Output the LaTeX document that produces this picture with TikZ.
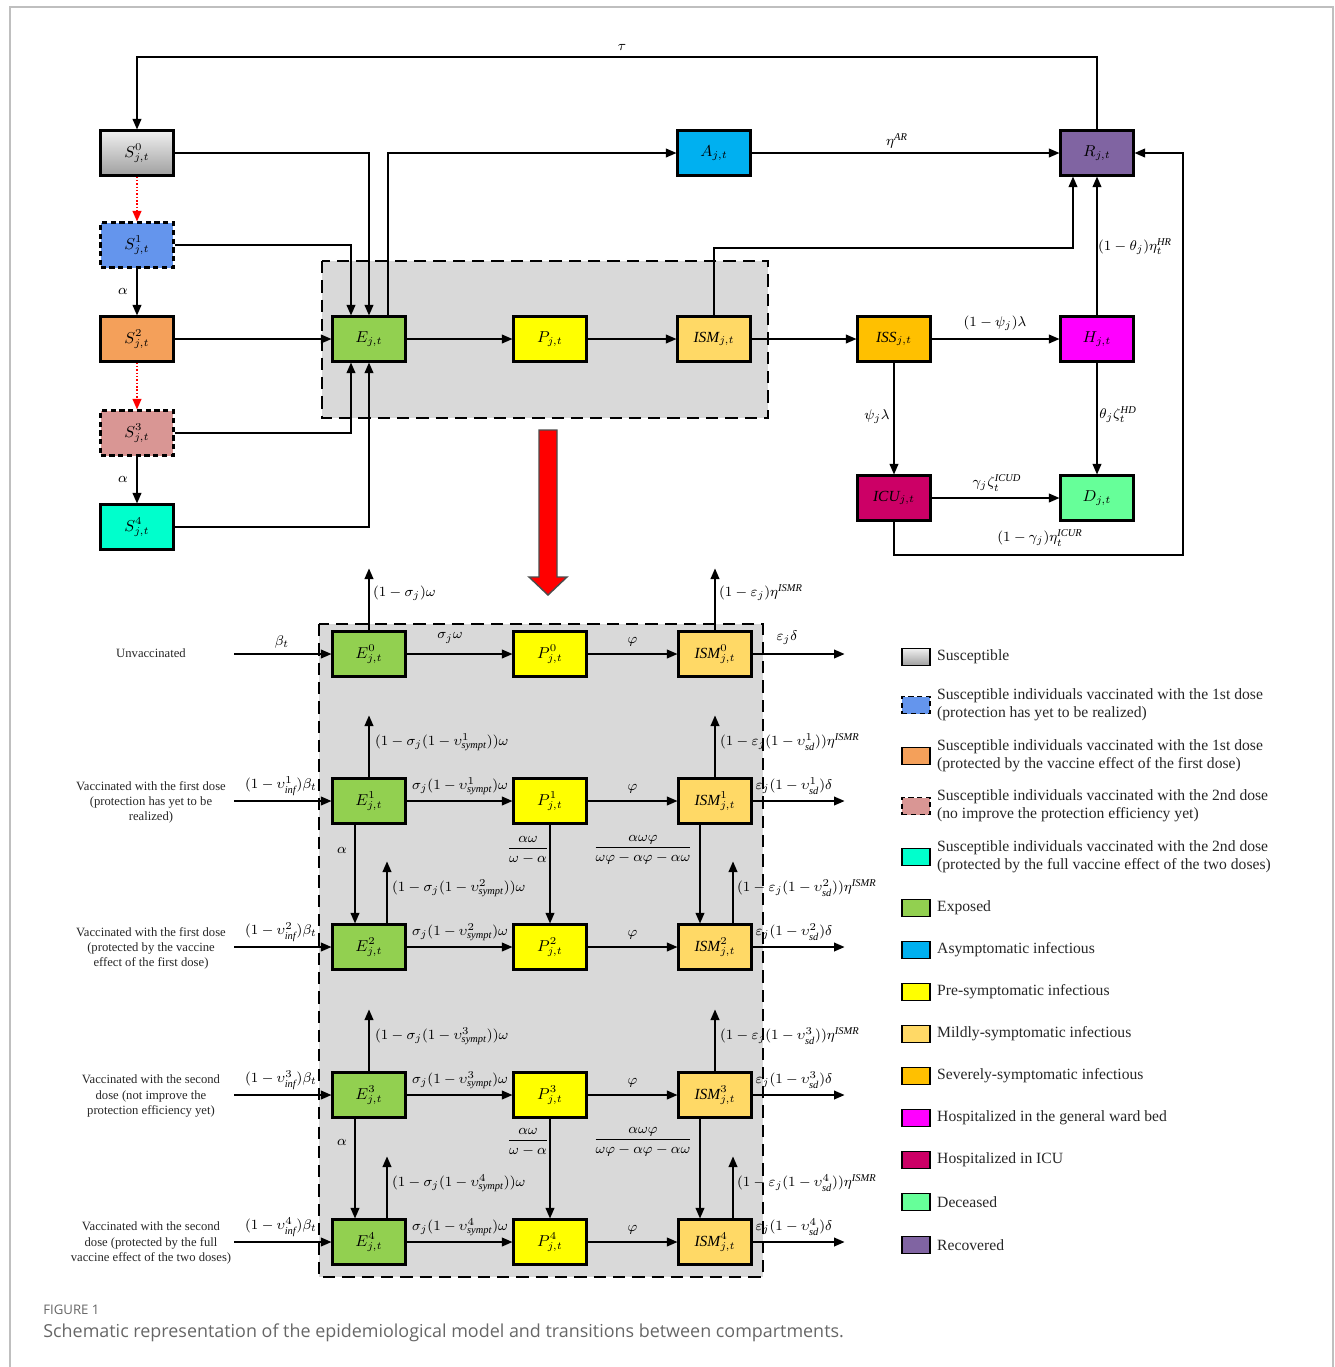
\documentclass[tikz,border=0pt]{standalone}
\usepackage{amsmath,amssymb}
\usepackage{fontspec}
\setmainfont{Liberation Serif}
\newfontfamily\capfont{Open Sans}
\usetikzlibrary{arrows.meta,calc,positioning}
\definecolor{cS1}{HTML}{6495ED}
\definecolor{cS2}{HTML}{F4A05A}
\definecolor{cS3}{HTML}{D99694}
\definecolor{cS4}{HTML}{00FFCC}
\definecolor{cE}{HTML}{92D050}
\definecolor{cP}{HTML}{FFFF00}
\definecolor{cISM}{HTML}{FFD966}
\definecolor{cISS}{HTML}{FFC000}
\definecolor{cA}{HTML}{00B0F0}
\definecolor{cR}{HTML}{8064A2}
\definecolor{cH}{HTML}{FF00FF}
\definecolor{cICU}{HTML}{CC0066}
\definecolor{cD}{HTML}{66FF99}

\begin{document}
\begin{tikzpicture}[x=0.02cm, y=-0.02cm,
    comp/.style={draw, line width=1.2pt, minimum width=1.46cm, minimum height=0.9cm, inner sep=0pt, font=\fontsize{8.8}{10}\selectfont},
    vacc/.style={comp, densely dashed},
    arr/.style={-{Triangle[length=6pt,width=5pt]}, line width=0.8pt},
    vac/.style={-{Triangle[length=6pt,width=5pt]}, red, densely dotted, line width=0.9pt},
    lbl/.style={font=\fontsize{8.5}{10}\selectfont, inner sep=1pt},
    grp/.style={draw, fill=black!15, dash pattern=on 7pt off 4pt, line width=1.1pt},
    cohort/.style={align=center, font=\fontsize{7.2}{8.6}\selectfont, text=black!85},
    key/.style={draw, line width=1.1pt, minimum width=0.56cm, minimum height=0.34cm, inner sep=0pt},
    keytext/.style={anchor=west, align=left, font=\fontsize{8.9}{10.5}\selectfont, text=black!85}
]
\useasboundingbox (0,0) rectangle (1335,1367);
\draw[gray!50, line width=1pt] (10,1367) -- (10,7) -- (1333,7) -- (1333,1367);

\draw[grp] (322,261) rectangle (768,418);
\draw[grp] (319,624) rectangle (763,1277);

\node[comp, top color=gray!12, bottom color=gray!75] (S0) at (137,153) {$S^{0}_{j,t}$};
\node[vacc, fill=cS1] (S1) at (137,245) {$S^{1}_{j,t}$};
\node[comp, fill=cS2] (S2) at (137,339) {$S^{2}_{j,t}$};
\node[vacc, fill=cS3] (S3) at (137,433) {$S^{3}_{j,t}$};
\node[comp, fill=cS4] (S4) at (137,527) {$S^{4}_{j,t}$};
\node[comp, fill=cE] (E) at (369,339) {$E_{j,t}$};
\node[comp, fill=cP] (P) at (550,339) {$P_{j,t}$};
\node[comp, fill=cISM] (ISM) at (714,339) {$\mathit{ISM}_{j,t}$};
\node[comp, fill=cISS] (ISS) at (894,339) {$\mathit{ISS}_{j,t}$};
\node[comp, fill=cH] (H) at (1097,339) {$H_{j,t}$};
\node[comp, fill=cA] (A) at (714,153) {$A_{j,t}$};
\node[comp, fill=cR] (R) at (1097,153) {$R_{j,t}$};
\node[comp, fill=cICU] (ICU) at (894,498) {$\mathit{ICU}_{j,t}$};
\node[comp, fill=cD] (D) at (1097,498) {$D_{j,t}$};

\coordinate (tl) at (137,57);
\coordinate (loopc) at (1183,555);
\draw[arr] (R.north) |- (tl) -- (S0.north);
\node[lbl] (ltau) at (622,47) {$\tau$};
\draw[vac] (S0) -- (S1);
\draw[arr] (S1) -- (S2);
\draw[vac] (S2) -- (S3);
\draw[arr] (S3) -- (S4);
\node[lbl] (la1) at (123,291) {$\alpha$};
\node[lbl] (la2) at (123,479) {$\alpha$};
\draw[arr] (S0.east) -| (E.north);
\draw[arr] (S1.east) -| ($(E.north)+(-18,0)$);
\draw[arr] (S2) -- (E);
\draw[arr] (S3.east) -| ($(E.south)+(-18,0)$);
\draw[arr] (S4.east) -| (E.south);
\draw[arr] ($(E.north)+(19,0)$) |- (A.west);
\draw[arr] (E) -- (P);
\draw[arr] (P) -- (ISM);
\draw[arr] (ISM) -- (ISS);
\draw[arr] (A) -- (R);
\node[lbl] (lar) at (897,141) {$\eta^{\mathit{AR}}$};
\draw[arr] (ISM.north) |- (1073,248) -- ($(R.south)+(-24,0)$);
\draw[arr] (ISS) -- (H);
\node[lbl] (lsh) at (995,323) {$(1-\psi_j)\lambda$};
\draw[arr] (H) -- (R);
\node[lbl] (lhr) at (1135,247) {$(1-\theta_j)\eta_t^{\mathit{HR}}$};
\draw[arr] (ISS) -- (ICU);
\node[lbl] (lsi) at (877,417) {$\psi_j\lambda$};
\draw[arr] (H) -- (D);
\node[lbl] (lhd) at (1118,415) {$\theta_j\zeta_t^{\mathit{HD}}$};
\draw[arr] (ICU) -- (D);
\node[lbl] (lid) at (997,483) {$\gamma_j\zeta_t^{\mathit{ICUD}}$};
\draw[arr] (ICU.south) |- (loopc) |- (R.east);
\node[lbl] (lir) at (1040,538) {$(1-\gamma_j)\eta_t^{\mathit{ICUR}}$};

\draw[fill=red, draw=black!70, line width=0.8pt] (539,430) -- (557,430) -- (557,577) -- (567,577) -- (548,595) -- (529,577) -- (539,577) -- cycle;

\node[comp, fill=cE] (E0) at (369,654) {$E^{0}_{j,t}$};
\node[comp, fill=cP] (P0) at (550,654) {$P^{0}_{j,t}$};
\node[comp, fill=cISM] (M0) at (715,654) {$\mathit{ISM}^{0}_{j,t}$};
\node[comp, fill=cE] (E1) at (369,801) {$E^{1}_{j,t}$};
\node[comp, fill=cP] (P1) at (550,801) {$P^{1}_{j,t}$};
\node[comp, fill=cISM] (M1) at (715,801) {$\mathit{ISM}^{1}_{j,t}$};
\node[comp, fill=cE] (E2) at (369,947) {$E^{2}_{j,t}$};
\node[comp, fill=cP] (P2) at (550,947) {$P^{2}_{j,t}$};
\node[comp, fill=cISM] (M2) at (715,947) {$\mathit{ISM}^{2}_{j,t}$};
\node[comp, fill=cE] (E3) at (369,1095) {$E^{3}_{j,t}$};
\node[comp, fill=cP] (P3) at (550,1095) {$P^{3}_{j,t}$};
\node[comp, fill=cISM] (M3) at (715,1095) {$\mathit{ISM}^{3}_{j,t}$};
\node[comp, fill=cE] (E4) at (369,1242) {$E^{4}_{j,t}$};
\node[comp, fill=cP] (P4) at (550,1242) {$P^{4}_{j,t}$};
\node[comp, fill=cISM] (M4) at (715,1242) {$\mathit{ISM}^{4}_{j,t}$};

\node[cohort] (c0) at (151,653) {Unvaccinated};
\node[cohort] (c1) at (151,802) {Vaccinated with the first dose\\(protection has yet to be\\realized)};
\node[cohort] (c2) at (151,948) {Vaccinated with the first dose\\(protected by the vaccine\\effect of the first dose)};
\node[cohort] (c3) at (151,1096) {Vaccinated with the second\\dose (not improve the\\protection efficiency yet)};
\node[cohort] (c4) at (151,1243) {Vaccinated with the second\\dose (protected by the full\\vaccine effect of the two doses)};

\foreach \k in {0,...,4}{
  \coordinate (in\k) at ($(E\k.west)+(-97,0)$);
  \coordinate (out\k) at ($(M\k.east)+(92,0)$);
  \draw[arr] (in\k) -- (E\k);
  \draw[arr] (E\k) -- (P\k);
  \draw[arr] (P\k) -- (M\k);
  \draw[arr] (M\k) -- (out\k);
  \node[lbl] (lpm\k) at ($(P\k)!0.5!(M\k)+(0,-12)$) {$\varphi$};
}
\foreach \k in {0,1,3}{
  \draw[arr] (E\k.north) -- ++(0,-62);
  \draw[arr] (M\k.north) -- ++(0,-62);
}
\foreach \k in {2,4}{
  \draw[arr] ($(E\k.north)+(18,0)$) -- ++(0,-62);
  \draw[arr] ($(M\k.north)+(18,0)$) -- ++(0,-62);
}
\foreach \a/\b in {1/2,3/4}{
  \draw[arr] ($(E\a.south)+(-14,0)$) -- ($(E\b.north)+(-14,0)$);
  \draw[arr] (P\a) -- (P\b);
  \draw[arr] ($(M\a.south)+(-15,0)$) -- ($(M\b.north)+(-15,0)$);
}

\node[lbl] (lb0) at (282,642) {$\beta_t$};
\node[lbl] (lep0) at (450,638) {$\sigma_j\omega$};
\node[lbl] (lo0) at (787,638) {$\varepsilon_j\delta$};
\node[lbl, anchor=west] (leu0) at (371,593) {$(1-\sigma_j)\omega$};
\node[lbl, anchor=west] (lmu0) at (717,593) {$(1-\varepsilon_j)\eta^{\mathit{ISMR}}$};
\foreach \k/\y/\ux in {1/801/371,2/947/388,3/1095/371,4/1242/388}{
  \node[lbl] (lb\k) at (281,\y-15) {$(1-\upsilon^{\k}_{\mathit{inf}})\beta_t$};
  \node[lbl] (lep\k) at (460,\y-15) {$\sigma_j(1-\upsilon^{\k}_{\mathit{sympt}})\omega$};
  \node[lbl] (lo\k) at (794,\y-15) {$\varepsilon_j(1-\upsilon^{\k}_{\mathit{sd}})\delta$};
  \node[lbl, anchor=west] (leu\k) at (\ux+2,\y-59) {$(1-\sigma_j(1-\upsilon^{\k}_{\mathit{sympt}}))\omega$};
  \node[lbl, anchor=west] (lmu\k) at (\ux+347,\y-59) {$(1-\varepsilon_j(1-\upsilon^{\k}_{\mathit{sd}}))\eta^{\mathit{ISMR}}$};
}
\foreach \y in {850,1142}{
  \node[lbl] at (342,\y) {$\alpha$};
  \node[lbl] at (528,\y) {$\dfrac{\alpha\omega}{\omega-\alpha}$};
  \node[lbl] at (643,\y) {$\dfrac{\alpha\omega\varphi}{\omega\varphi-\alpha\varphi-\alpha\omega}$};
}

\node[key, top color=gray!12, bottom color=gray!75] (k1) at (916,657) {};
\node[key, fill=cS1, densely dashed] (k2) at (916,705) {};
\node[key, fill=cS2] (k3) at (916,756) {};
\node[key, fill=cS3, densely dashed] (k4) at (916,806) {};
\node[key, fill=cS4] (k5) at (916,857) {};
\node[key, fill=cE] (k6) at (916,908) {};
\node[key, fill=cA] (k7) at (916,950) {};
\node[key, fill=cP] (k8) at (916,992) {};
\node[key, fill=cISM] (k9) at (916,1034) {};
\node[key, fill=cISS] (k10) at (916,1076) {};
\node[key, fill=cH] (k11) at (916,1118) {};
\node[key, fill=cICU] (k12) at (916,1160) {};
\node[key, fill=cD] (k13) at (916,1202) {};
\node[key, fill=cR] (k14) at (916,1245) {};
\node[keytext] (t1) at (931,657) {Susceptible};
\node[keytext] (t2) at (931,705) {Susceptible individuals vaccinated with the 1st dose\\(protection has yet to be realized)};
\node[keytext] (t3) at (931,756) {Susceptible individuals vaccinated with the 1st dose\\(protected by the vaccine effect of the first dose)};
\node[keytext] (t4) at (931,806) {Susceptible individuals vaccinated with the 2nd dose\\(no improve the protection efficiency yet)};
\node[keytext] (t5) at (931,857) {Susceptible individuals vaccinated with the 2nd dose\\(protected by the full vaccine effect of the two doses)};
\node[keytext] (t6) at (931,908) {Exposed};
\node[keytext] (t7) at (931,950) {Asymptomatic infectious};
\node[keytext] (t8) at (931,992) {Pre-symptomatic infectious};
\node[keytext] (t9) at (931,1034) {Mildly-symptomatic infectious};
\node[keytext] (t10) at (931,1076) {Severely-symptomatic infectious};
\node[keytext] (t11) at (931,1118) {Hospitalized in the general ward bed};
\node[keytext] (t12) at (931,1160) {Hospitalized in ICU};
\node[keytext] (t13) at (931,1202) {Deceased};
\node[keytext] (t14) at (931,1245) {Recovered};

\node[anchor=west, inner sep=0pt, text=black!60, font=\capfont\fontsize{7.5}{9}\selectfont] (fig) at (43,1310) {FIGURE 1};
\node[anchor=west, inner sep=0pt, text=black!60, font=\capfont\fontsize{10.2}{12}\selectfont] (cap) at (43,1333) {Schematic representation of the epidemiological model and transitions between compartments.};
\end{tikzpicture}
\end{document}
